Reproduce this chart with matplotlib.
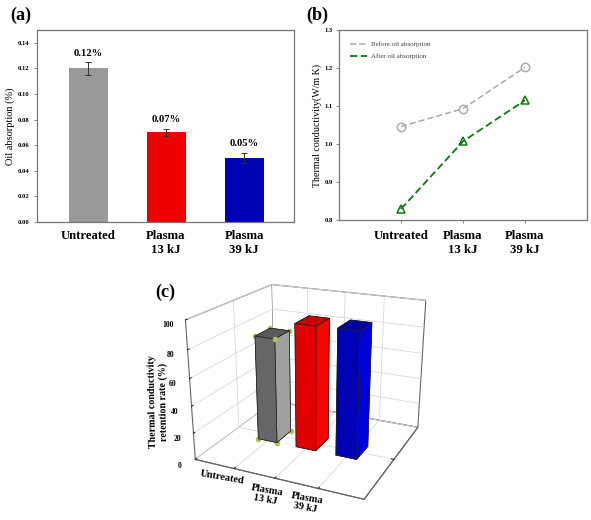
import matplotlib
matplotlib.use("Agg")
import matplotlib.pyplot as plt
import numpy as np

plt.rcParams['font.family'] = ['Liberation Serif', 'DejaVu Serif']
plt.rcParams['font.weight'] = 'bold'

W, H = 591, 520
CATS = ['Untreated', 'Plasma\n13 kJ', 'Plasma\n39 kJ']
COLORS = ['#999999', '#ee0000', '#0000b4']
OIL = [0.12, 0.07, 0.05]
OIL_ERR = [0.005, 0.003, 0.004]
OIL_LABELS = ['0.12%', '0.07%', '0.05%']
BEFORE = [1.046, 1.093, 1.202]
AFTER = [0.829, 1.007, 1.115]
RETENTION = [79.3, 92.1, 92.7]
FACE_COLORS = [
    ['#555555', '#5a5a5a', '#666666', '#666666', '#666666', '#a0a0a0'],
    ['#b00000', '#c80000', '#e00000', '#e00000', '#e00000', '#ff0000'],
    ['#000080', '#0000a0', '#0000b4', '#0000b4', '#0000b4', '#0000d8'],
]
SPINE = '#777777'

def axpx(l, t, r, b, **kw):
    return fig.add_axes([l / W, 1 - b / H, (r - l) / W, (b - t) / H], **kw)

fig = plt.figure(figsize=(W / 100, H / 100), dpi=100)

# (c) first, so the 2D panels stay on top of its transparent margin
c = axpx(129, 257, 489, 507, projection='3d')
c.patch.set_alpha(0)
c.set_proj_type('persp', focal_length=0.48)
c.view_init(elev=20.5, azim=-65)
c.set_box_aspect((1.5, 1.4, 1.2), zoom=1.09)
BW = 0.5; BD = 0.38
for i, (v, fc) in enumerate(zip(RETENTION, FACE_COLORS)):
    c.bar3d(i + 1 - BW / 2, 1 - BD / 2, 0, BW, BD, v, color=fc, edgecolor='#222222', linewidth=0.5, shade=False)
bx = np.array([1 - BW / 2, 1 + BW / 2])
by = np.array([1 - BD / 2, 1 + BD / 2])
for (xx, yy) in [(bx[0], by[0]), (bx[1], by[0]), (bx[1], by[1]), (bx[0], by[1])]:
    c.scatter([xx], [yy], [RETENTION[0]], s=9, color='#b5bd55', depthshade=False, zorder=10)
    if not (xx == bx[0] and yy == by[1]):
        c.scatter([xx], [yy], [0], s=9, color='#b5bd55', depthshade=False, zorder=10)
c.set_xlim(0, 4, view_margin=0)
c.set_ylim(0, 2, view_margin=0)
c.set_zlim(0, 100, view_margin=0)
c.set_xticks([1, 2, 3]); c.set_xticklabels([])
c.set_yticks([1]); c.set_yticklabels([])
c.set_zticks(np.arange(0, 101, 20))
c.set_zticklabels([str(v) for v in range(0, 101, 20)], fontsize=5.5)
c.zaxis.set_ticks_position('lower')
c.tick_params(axis='z', pad=-2)
for ax_ in (c.xaxis, c.yaxis, c.zaxis):
    ax_.set_pane_color((1, 1, 1, 1))
    ax_.pane.set_edgecolor('#666666')
    ax_.pane.set_linewidth(0.8)
    ax_.line.set_color('#666666')
    ax_.line.set_linewidth(0.8)
    ax_._axinfo['grid'].update(color='#d8d8d8', linewidth=0.6)
    ax_._axinfo['tick'].update(inward_factor=0, outward_factor=0.2, linewidth={True: 0.6, False: 0.6})
LABEL_POS = [(222, 477), (266, 495), (306, 503)]
for (px, py), s in zip(LABEL_POS, CATS):
    fig.text(px / W, 1 - py / H, s, fontsize=7.5, rotation=-10, ha='center', va='center', linespacing=1.15,
             rotation_mode='anchor')
fig.text(158 / W, 1 - 402 / H, 'Thermal conductivity\nretention rate (%)', rotation=91, fontsize=7.2,
         ha='center', va='center', linespacing=1.25)
fig.text(155 / W, 1 - 297 / H, '(c)', fontsize=13, va='baseline')

# (a)
a = axpx(37, 30, 294, 222)
x = np.arange(3)
a.bar(x, OIL, width=0.5, color=COLORS)
a.errorbar(x, OIL, yerr=OIL_ERR, fmt='none', ecolor='#333333', elinewidth=0.7, capsize=2, capthick=0.7)
for xi, v, e, s in zip(x, OIL, OIL_ERR, OIL_LABELS):
    a.text(xi, v + e + 0.0035, s, ha='center', va='bottom', fontsize=7.7)
a.plot([2.25, 2.64], [0, 0], color='#3030c0', lw=0.8)
a.set_xlim(-0.654, 2.64)
a.set_ylim(0, 0.15)
a.set_yticks(np.arange(0, 0.141, 0.02))
a.set_yticklabels([f'{v:.2f}' for v in np.arange(0, 0.141, 0.02)], fontsize=4.8)
a.set_xticks(x)
a.set_xticklabels(CATS, fontsize=9.2, linespacing=1.2)
a.tick_params(axis='x', length=0, pad=6)
a.tick_params(axis='y', length=2, width=0.6, color=SPINE, pad=3.5)
a.set_ylabel('Oil absorption (%)', fontsize=7.5, labelpad=2)
for s in a.spines.values():
    s.set_color(SPINE); s.set_linewidth(0.9)
fig.text(10 / W, 1 - 20 / H, '(a)', fontsize=13, va='baseline')

# (b)
b = axpx(339, 30, 587, 220)
b.plot(x, BEFORE, ls='--', color='#aaaaaa', lw=1.1, marker='o', ms=6, mfc='none', mec='#aaaaaa', mew=1.1,
       dashes=(4, 2), label='Before oil absorption')
b.plot(x, AFTER, ls='--', color='#0a7a0a', lw=1.3, marker='^', ms=6, mfc='none', mec='#0a7a0a', mew=1.1,
       dashes=(4, 2), label='After oil absorption')
b.set_xlim(-1, 3)
b.set_ylim(0.8, 1.3)
b.set_yticks(np.arange(0.8, 1.31, 0.1))
b.set_yticklabels([f'{v:.1f}' for v in np.arange(0.8, 1.31, 0.1)], fontsize=4.8)
b.set_xticks(x)
b.set_xticklabels(CATS, fontsize=9.2, linespacing=1.2)
b.tick_params(axis='x', length=2, width=0.6, color=SPINE, pad=5)
b.tick_params(axis='y', length=2, width=0.6, color=SPINE, pad=2.5)
b.set_ylabel('Thermal conductivity(W/m K)', fontsize=7.2, labelpad=2)
for s in b.spines.values():
    s.set_color(SPINE); s.set_linewidth(0.9)
h = b.get_lines()
leg = b.legend(handles=[plt.Line2D([], [], color=l.get_color(), ls='--', lw=l.get_linewidth(), dashes=(4, 2)) for l in h],
               labels=[l.get_label() for l in h], loc='upper left', bbox_to_anchor=(0.025, 0.965), frameon=False,
               prop={'size': 5, 'weight': 'normal'}, handlelength=2.4, labelspacing=0.85, borderpad=0.2, handletextpad=0.6)
for t in leg.get_texts():
    t.set_color('#444444')
fig.text(306 / W, 1 - 20 / H, '(b)', fontsize=13, va='baseline')

fig.savefig('out.png', dpi=100)
